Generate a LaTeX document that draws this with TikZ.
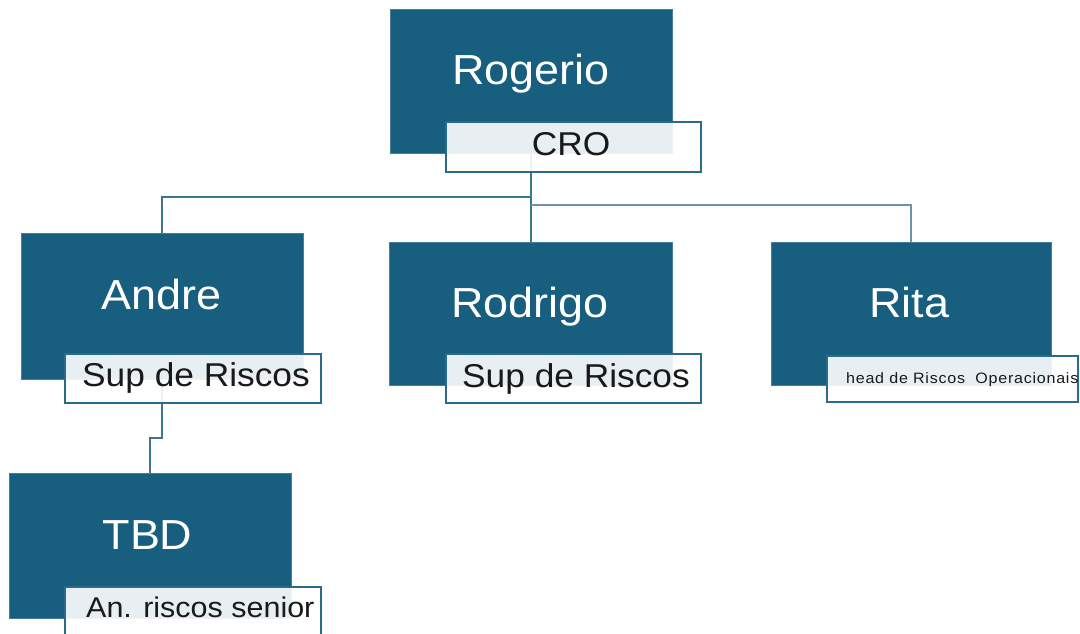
\documentclass[tikz,border=0pt]{standalone}
\usepackage{fontspec}
\setmainfont[FakeStretch=1.07]{Liberation Sans}
\newfontfamily\smallspaced[FakeStretch=1.07,LetterSpace=5]{Liberation Sans}
\definecolor{boxblue}{HTML}{175E7F}
\definecolor{edgeblue}{HTML}{2A6A8A}
\definecolor{lineA}{HTML}{3D7491}
\definecolor{lineB}{HTML}{6B93AA}
\tikzset{
  person/.style={fill=boxblue, draw=boxblue!80!white, line width=0.6pt, inner sep=0, minimum width=0, minimum height=0},
  rolebox/.style={fill=white, fill opacity=0.9, draw=edgeblue, line width=1.6pt},
  nametext/.style={anchor=base, inner sep=0, text=white, font=\fontsize{42}{50}\selectfont},
  roletext/.style={inner sep=0, text=black!90, font=\fontsize{33}{40}\selectfont},
  conA/.style={draw=lineA, line width=2pt},
  conB/.style={draw=lineB, line width=2.8pt},
}
\begin{document}
\begin{tikzpicture}[x=1pt,y=-1pt]
\useasboundingbox (0,0) rectangle (1080,633);
\fill[white] (0,0) rectangle (1080,633);

% person boxes
\node[person, minimum width=282pt, minimum height=144pt] (rog) at (531,81) {};
\node[person, minimum width=282pt, minimum height=146pt] (andre) at (162,306) {};
\node[person, minimum width=283pt, minimum height=143pt] (rodrigo) at (530.5,313.5) {};
\node[person, minimum width=280pt, minimum height=143pt] (rita) at (911,313.5) {};
\node[person, minimum width=282pt, minimum height=145pt] (tbd) at (150,545.5) {};

% connectors (below role boxes)
\coordinate (leftY) at (162,197);
\coordinate (rightY) at (911,205);
\coordinate (jogY) at (162,438);
\draw[conA] (rog.south) -- (rog.south |- rodrigo.north);
\draw[conA] (rog.south |- leftY) -- (andre.north |- leftY) -- (andre.north);
\draw[conB] (rog.south |- rightY) -- (rita.north |- rightY) -- (rita.north);
\draw[conA] (andre.south) -- (andre.south |- jogY) -- (tbd.north |- jogY) -- (tbd.north);

% role boxes
\node[rolebox, minimum width=255pt, minimum height=50pt] (crol) at (573.5,147) {};
\node[rolebox, minimum width=256pt, minimum height=49pt] (andrel) at (193,378.5) {};
\node[rolebox, minimum width=255pt, minimum height=49pt] (rodrigol) at (573.5,378.5) {};
\node[rolebox, minimum width=251pt, minimum height=46pt] (rital) at (952.5,379) {};
\node[rolebox, minimum width=256pt, minimum height=52pt] (tbdl) at (193,613) {};

% texts
\node[nametext] (t1) at (531,84) {Rogerio};
\node[nametext] (t2) at (161.5,309) {Andre};
\node[nametext] (t3) at (530,317) {Rodrigo};
\node[nametext] (t4) at (909.5,317) {Rita};
\node[nametext] (t5) at (147.5,549) {TBD};

\node[roletext, anchor=base] (r1) at (571,155) {CRO};
\node[roletext, anchor=base] (r2) at (196,386) {Sup de Riscos};
\node[roletext, anchor=base] (r3) at (576,387) {Sup de Riscos};
\node[roletext, anchor=base west, font=\smallspaced\fontsize{15}{18}\selectfont] (r4) at (846,383) {head de Riscos\ \ Operacionais};
\node[roletext, anchor=base west, font=\fontsize{28.5}{34}\selectfont] (r5) at (86,617) {An. riscos senior};
\end{tikzpicture}
\end{document}
